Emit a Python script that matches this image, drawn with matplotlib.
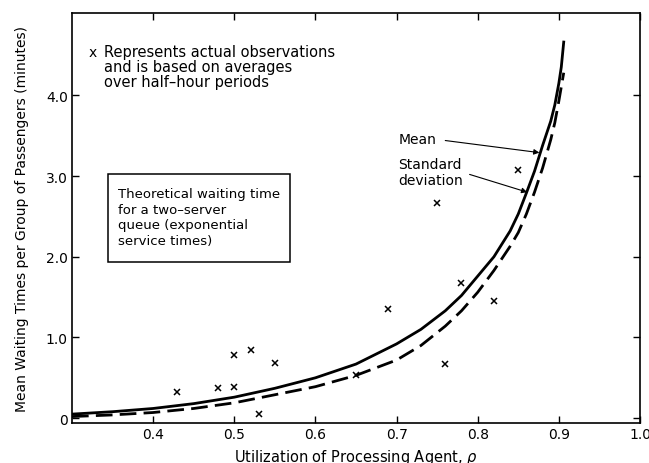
import matplotlib
matplotlib.use("Agg")
import matplotlib.pyplot as plt
from matplotlib.patches import Rectangle

plt.rcParams['font.family'] = ['DejaVu Sans']

# Theoretical mean waiting time (solid)
mean_rho = [0.30, 0.35, 0.40, 0.45, 0.50, 0.55, 0.60, 0.65, 0.70, 0.73, 0.76, 0.78,
            0.80, 0.82, 0.84, 0.85, 0.86, 0.87, 0.88, 0.89, 0.895, 0.90, 0.903, 0.906]
mean_wait = [0.05, 0.08, 0.12, 0.18, 0.26, 0.37, 0.50, 0.67, 0.92, 1.10, 1.33, 1.52,
             1.76, 2.00, 2.32, 2.53, 2.79, 3.06, 3.38, 3.68, 3.88, 4.15, 4.35, 4.66]

# Standard deviation (dashed)
sd_rho = [0.30, 0.35, 0.40, 0.45, 0.50, 0.55, 0.60, 0.65, 0.70, 0.73, 0.76, 0.78,
          0.80, 0.82, 0.84, 0.85, 0.86, 0.87, 0.88, 0.89, 0.895, 0.90, 0.906]
sd_wait = [0.02, 0.04, 0.07, 0.12, 0.19, 0.29, 0.39, 0.53, 0.72, 0.90, 1.14, 1.33,
           1.56, 1.83, 2.13, 2.30, 2.53, 2.80, 3.10, 3.45, 3.66, 3.93, 4.28]

# Observations
obs_rho = [0.43, 0.48, 0.50, 0.50, 0.52, 0.53, 0.55, 0.65, 0.69, 0.75, 0.76, 0.78, 0.82, 0.85]
obs_wait = [0.33, 0.37, 0.39, 0.78, 0.85, 0.05, 0.68, 0.53, 1.35, 2.67, 0.67, 1.68, 1.45, 3.08]

xticks = [0.4, 0.5, 0.6, 0.7, 0.8, 0.9, 1.0]
xticklabels = ["0.4", "0.5", "0.6", "0.7", "0.8", "0.9", "1.0"]
yticks = [0, 1, 2, 3, 4]
yticklabels = ["0", "1.0", "2.0", "3.0", "4.0"]

note_lines = ["Represents actual observations", "and is based on averages",
              "over half\u2013hour periods"]
box_lines = "Theoretical waiting time\nfor a two\u2013server\nqueue (exponential\nservice times)"

fig = plt.figure(figsize=(6.49, 4.64), dpi=100)
ax = fig.add_axes([72/649, 1-424/464, (640-72)/649, (424-14)/464])

ax.plot(mean_rho, mean_wait, color='black', lw=2.0, solid_joinstyle='round')
ax.plot(sd_rho, sd_wait, color='black', lw=2.0, dashes=(6, 2.6))
ax.plot(obs_rho, obs_wait, linestyle='none', marker='x', color='black', ms=5, mew=1.1)

ax.set_xlim(0.3, 1.0)
ax.set_ylim(-0.06, 5.02)
ax.set_xticks(xticks)
ax.set_xticklabels(xticklabels)
ax.set_yticks(yticks)
ax.set_yticklabels(yticklabels)
ax.tick_params(direction='in', length=5, width=1, top=True, right=True, labelsize=10, pad=3)
for s in ax.spines.values():
    s.set_linewidth(1.2)

ax.set_xlabel("Utilization of Processing Agent, $\\rho$", fontsize=10.5, labelpad=4)
ax.set_ylabel("Mean Waiting Times per Group of Passengers (minutes)", fontsize=10, labelpad=12)

# Observation note
ax.text(0.326, 4.54, "x", fontsize=10, va='center', ha='center')
for i, line in enumerate(note_lines):
    ax.text(0.339, 4.54 - i * 0.185, line, fontsize=10.5, va='center', ha='left')

# Box
ax.add_patch(Rectangle((0.344, 1.93), 0.569 - 0.344, 3.02 - 1.93, fill=False, lw=1.1, ec='black'))
ax.text(0.357, 2.86, box_lines, fontsize=9.5, va='top', ha='left', linespacing=1.25)

# Curve labels
ax.text(0.702, 3.46, "Mean", fontsize=10, va='center', ha='left')
ax.text(0.702, 3.05, "Standard\ndeviation", fontsize=10, va='center', ha='left', linespacing=1.15)
ax.annotate("", xy=(0.876, 3.29), xytext=(0.760, 3.44),
            arrowprops=dict(arrowstyle='-|>', lw=0.8, color='black', mutation_scale=8, shrinkA=0, shrinkB=0))
ax.annotate("", xy=(0.861, 2.80), xytext=(0.790, 3.02),
            arrowprops=dict(arrowstyle='-|>', lw=0.8, color='black', mutation_scale=8, shrinkA=0, shrinkB=0))

fig.savefig("out.png", dpi=100)
